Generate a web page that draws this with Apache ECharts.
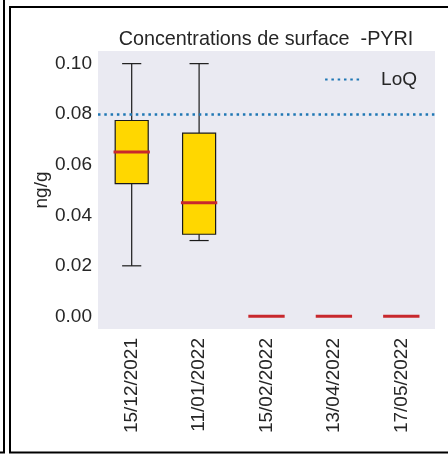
<!DOCTYPE html>
<html><head><meta charset="utf-8">
<script src="https://cdn.jsdelivr.net/npm/echarts@6/dist/echarts.min.js"></script>
<style>html,body{margin:0;padding:0;background:#fff}#c{width:448px;height:455px}</style>
</head><body><div id="c"></div>
<script>
const categories = ['15/12/2021','11/01/2022','15/02/2022','13/04/2022','17/05/2022'];
const whiskerLow  = [0.020, 0.030, 0, 0, 0];
const q1          = [0.0525, 0.0325, 0, 0, 0];
const median      = [0.065, 0.045, 0, 0, 0];
const q3          = [0.0775, 0.0725, 0, 0, 0];
const whiskerHigh = [0.100, 0.100, 0, 0, 0];
const loq = 0.08;
const yTicks = [0, 0.02, 0.04, 0.06, 0.08, 0.10];

const FONT = '"Liberation Sans", Arial, sans-serif';
const TXT = '#262626';
const chart = echarts.init(document.getElementById('c'), null, {renderer:'canvas'});
const boxData = categories.map((c,i)=>[i, whiskerLow[i], q1[i], median[i], q3[i], whiskerHigh[i]]);

chart.setOption({
  backgroundColor:'#fff',
  animation:false,
  title:{text:'Concentrations de surface  -PYRI', left:261, top:25, textAlign:'center',
    textStyle:{fontFamily:FONT,fontSize:19.8,fontWeight:'normal',color:TXT}},
  legend:{right:26, top:65, itemWidth:36, itemHeight:12, itemGap:10,
    itemStyle:{opacity:0},
    textStyle:{fontFamily:FONT,fontSize:19,color:TXT,padding:[0,0,0,15]},
    data:[{name:'LoQ'}]},
  grid:{left:98,right:13,top:51,bottom:126,show:true,backgroundColor:'#EAEAF2',borderWidth:0},
  xAxis:{type:'category',data:categories,
    axisLine:{show:false},axisTick:{show:false},splitLine:{show:false},
    axisLabel:{rotate:90,margin:9,fontFamily:FONT,fontSize:19,color:TXT,interval:0}},
  yAxis:{type:'value',min:-0.005,max:0.105,name:'ng/g',nameLocation:'middle',nameGap:47,
    nameMoveOverlap:false,
    nameTextStyle:{fontFamily:FONT,fontSize:19,color:TXT},
    axisLine:{show:false},axisTick:{show:false},splitLine:{show:false},
    axisLabel:{customValues:yTicks,margin:6,fontFamily:FONT,fontSize:19,color:TXT,
      formatter:v=>v.toFixed(2)}},
  series:[
    {type:'custom',name:'box',data:boxData,z:3,
      renderItem:function(params,api){
        const x=api.value(0);
        const band=api.size([1,0])[0];
        const bw=band*0.49, cw=bw*0.58, mw=bw*1.1;
        const pLo=api.coord([x,api.value(1)]), pQ1=api.coord([x,api.value(2)]),
              pMed=api.coord([x,api.value(3)]), pQ3=api.coord([x,api.value(4)]),
              pHi=api.coord([x,api.value(5)]);
        const cx=pMed[0];
        const ls={stroke:'#1a1a1a',lineWidth:1.2};
        return {type:'group',children:[
          {type:'line',shape:{x1:cx,y1:pQ1[1],x2:cx,y2:pLo[1]},style:ls},
          {type:'line',shape:{x1:cx,y1:pQ3[1],x2:cx,y2:pHi[1]},style:ls},
          {type:'line',shape:{x1:cx-cw/2,y1:pLo[1],x2:cx+cw/2,y2:pLo[1]},style:ls},
          {type:'line',shape:{x1:cx-cw/2,y1:pHi[1],x2:cx+cw/2,y2:pHi[1]},style:ls},
          {type:'rect',shape:{x:cx-bw/2,y:pQ3[1],width:bw,height:pQ1[1]-pQ3[1]},
            style:{fill:'#FFD700',stroke:'#1a1a1a',lineWidth:1.2}},
          {type:'line',shape:{x1:cx-mw/2,y1:pMed[1],x2:cx+mw/2,y2:pMed[1]},
            style:{stroke:'#C8282D',lineWidth:3}}
        ]};
      }},
    {type:'line',name:'LoQ',data:[],symbol:'none',symbolSize:0,showSymbol:false,z:4,
      lineStyle:{color:'#1f77b4',width:2.5,type:[2.5,3.8]},itemStyle:{color:'#1f77b4'},
      markLine:{silent:true,symbol:'none',label:{show:false},
        lineStyle:{color:'#1f77b4',width:2.5,type:[2.5,3.8]},
        data:[{yAxis:loq}]}}
  ],
  graphic:[
    {type:'polyline',shape:{points:[[4,0],[4,452.5],[0,452.5]]},style:{stroke:'#000',lineWidth:2,fill:null}},
    {type:'polyline',shape:{points:[[448,7],[10,7],[10,452.5],[448,452.5]]},style:{stroke:'#000',lineWidth:2,fill:null}}
  ]
});
</script></body></html>
